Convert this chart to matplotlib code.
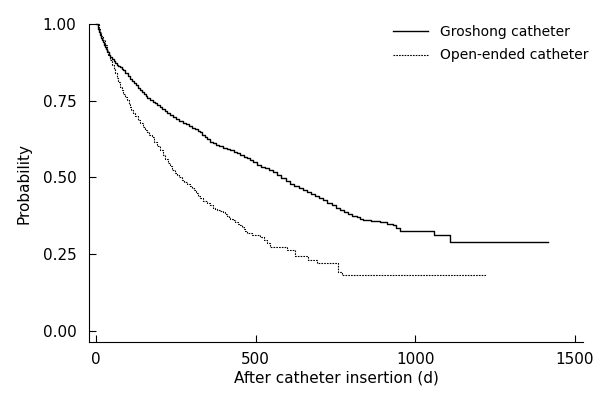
import matplotlib
matplotlib.use("Agg")
import matplotlib.pyplot as plt

plt.rcParams['font.family'] = ['DejaVu Sans']

# Groshong catheter (solid)
g_time = [0, 4, 7, 10, 13, 16, 19, 22, 25, 28, 31, 34, 40, 45, 50, 55, 60, 65, 70, 75,
          80, 85, 92, 100, 106, 112, 118, 125, 131, 138, 144, 150, 155, 160, 169, 177,
          185, 192, 200, 208, 215, 223, 232, 241, 250, 261, 272, 281, 290, 300, 310,
          318, 326, 333, 340, 348, 357, 366, 375, 386, 398, 409, 420, 431, 442, 452,
          462, 472, 482, 493, 504, 517, 530, 542, 554, 567, 580, 594, 608, 621, 635,
          648, 661, 673, 686, 698, 711, 724, 738, 751, 764, 777, 790, 803, 817, 826,
          836, 862, 889, 910, 930, 940, 952, 1059, 1109, 1416]
g_surv = [1.0, 1.0, 0.985, 0.975, 0.965, 0.955, 0.947, 0.94, 0.932, 0.925, 0.917, 0.909,
          0.9, 0.893, 0.886, 0.88, 0.874, 0.868, 0.864, 0.86, 0.855, 0.85, 0.84, 0.83,
          0.822, 0.815, 0.808, 0.80, 0.792, 0.785, 0.778, 0.772, 0.766, 0.76, 0.752,
          0.747, 0.742, 0.736, 0.73, 0.723, 0.717, 0.71, 0.704, 0.698, 0.692, 0.685,
          0.678, 0.673, 0.668, 0.662, 0.657, 0.652, 0.648, 0.64, 0.632, 0.624, 0.616,
          0.611, 0.606, 0.601, 0.596, 0.592, 0.588, 0.584, 0.58, 0.574, 0.568, 0.562,
          0.557, 0.549, 0.541, 0.535, 0.53, 0.524, 0.518, 0.508, 0.498, 0.488, 0.479,
          0.472, 0.466, 0.459, 0.453, 0.446, 0.44, 0.433, 0.427, 0.418, 0.41, 0.402,
          0.394, 0.388, 0.382, 0.376, 0.371, 0.366, 0.362, 0.358, 0.355, 0.35, 0.345,
          0.336, 0.326, 0.312, 0.291, 0.291]

# Open-ended catheter (dotted)
o_time = [0, 4, 8, 12, 17, 22, 27, 33, 38, 44, 50, 55, 60, 65, 70, 75, 80, 86, 92, 97,
          102, 106, 111, 116, 123, 130, 138, 147, 153, 160, 167, 175, 183, 192, 201,
          210, 217, 224, 231, 238, 246, 253, 261, 269, 277, 285, 293, 301, 308, 314,
          320, 326, 336, 346, 356, 366, 373, 380, 389, 398, 404, 410, 415, 420, 428,
          436, 444, 451, 457, 462, 468, 473, 490, 514, 525, 535, 545, 598, 623, 664,
          692, 758, 770, 1221]
o_surv = [1.0, 1.0, 0.985, 0.975, 0.962, 0.948, 0.932, 0.915, 0.9, 0.883, 0.868, 0.853,
          0.839, 0.825, 0.81, 0.795, 0.784, 0.773, 0.762, 0.752, 0.741, 0.73, 0.72, 0.71,
          0.699, 0.688, 0.676, 0.664, 0.656, 0.648, 0.64, 0.632, 0.617, 0.602, 0.588,
          0.573, 0.56, 0.548, 0.536, 0.524, 0.516, 0.508, 0.5, 0.492, 0.485, 0.479,
          0.472, 0.466, 0.458, 0.45, 0.441, 0.433, 0.425, 0.417, 0.409, 0.401, 0.398,
          0.395, 0.391, 0.388, 0.382, 0.376, 0.37, 0.365, 0.36, 0.355, 0.35, 0.345,
          0.338, 0.332, 0.325, 0.319, 0.313, 0.306, 0.297, 0.287, 0.272, 0.264, 0.244,
          0.231, 0.22, 0.193, 0.181, 0.181]

x_ticks = [0, 500, 1000, 1500]
y_ticks = [0.0, 0.25, 0.5, 0.75, 1.0]
y_ticklabels = ["0.00", "0.25", "0.50", "0.75", "1.00"]

fig = plt.figure(figsize=(6.15, 3.97), dpi=100)
ax = fig.add_axes([0.1447, 0.1385, 0.948 - 0.1447, 0.9395 - 0.1385])

ax.plot(g_time, g_surv, drawstyle='steps-post', color='black', lw=1.0,
        label='Groshong catheter', clip_on=False)
ax.plot(o_time, o_surv, drawstyle='steps-post', color='black', lw=0.8,
        linestyle=(0, (1.5, 1.0)), label='Open-ended catheter', clip_on=False)

ax.set_xlim(-22, 1525)
ax.set_ylim(-0.036, 1.0)
ax.set_xticks(x_ticks)
ax.set_yticks(y_ticks)
ax.set_yticklabels(y_ticklabels)
ax.tick_params(direction='in', length=5, width=0.8, labelsize=11, color='black')
ax.tick_params(axis='y', pad=9)
ax.tick_params(axis='x', pad=7)
for s in ['top', 'right']:
    ax.spines[s].set_visible(False)
for s in ['left', 'bottom']:
    ax.spines[s].set_linewidth(0.8)

ax.set_xlabel('After catheter insertion (d)', fontsize=11, labelpad=3)
ax.set_ylabel('Probability', fontsize=11, labelpad=8)

ax.legend(loc='upper left', bbox_to_anchor=(393 / 615, 1 - 25 / 397),
          bbox_transform=fig.transFigure, frameon=False, fontsize=10,
          borderpad=0, borderaxespad=0,
          handlelength=2.5, handletextpad=0.85, labelspacing=0.68)

fig.savefig('out.png', dpi=100)
